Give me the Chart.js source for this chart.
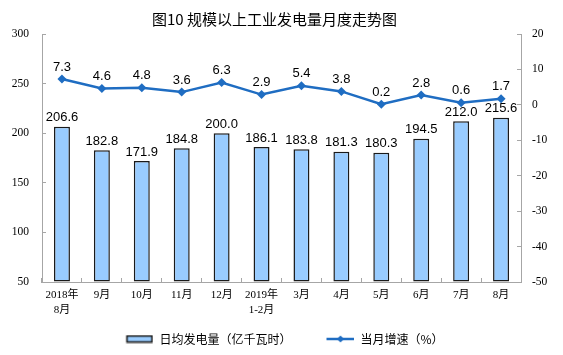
<!DOCTYPE html>
<html>
<head>
<meta charset="utf-8">
<script src="https://cdn.jsdelivr.net/npm/chart.js@4.4.1/dist/chart.umd.min.js"></script>
<style>
html,body{margin:0;padding:0;background:#fff;}
#c{display:block;}
</style>
</head>
<body>
<canvas id="c" width="563" height="355"></canvas>
<script>
// ---- data ----
const categories = [['2018年','8月'],'9月','10月','11月','12月',['2019年','1-2月'],'3月','4月','5月','6月','7月','8月'];
const dailyOutput = [206.6,182.8,171.9,184.8,200.0,186.1,183.8,181.3,180.3,194.5,212.0,215.6];
const growthRate = [7.3,4.6,4.8,3.6,6.3,2.9,5.4,3.8,0.2,2.8,0.6,1.7];
const leftTicks = [50,100,150,200,250,300];
const rightTicks = [-50,-40,-30,-20,-10,0,10,20];
const seriesNames = ['日均发电量（亿千瓦时）','当月增速（%）'];
const titleText = '图10 规模以上工业发电量月度走势图';

// ---- style ----
const BAR_FILL = '#99CCFF';
const BAR_EDGE = '#1A1A1A';
const LINE_COL = '#1F6DC2';
const AXIS_COL = '#A6A6A6';
const SERIF = '"Liberation Serif", "Times New Roman", "Noto Sans CJK SC", serif';
const SANS = '"Liberation Sans", Arial, "Noto Sans CJK SC", sans-serif';
const CJK = '"Noto Sans CJK SC", "Liberation Sans", sans-serif';
const ICON_W = 48; // legend box width (icon drawn at its right end)

function barIcon() {
  const c = document.createElement('canvas');
  c.width = ICON_W; c.height = 9;
  const g = c.getContext('2d');
  const x0 = ICON_W - 28;
  g.fillStyle = BAR_FILL;
  g.fillRect(x0 + 1, 1.5, 26, 6);
  g.strokeStyle = BAR_EDGE;
  g.lineWidth = 1.6;
  g.strokeRect(x0 + 1.5, 1.5, 25, 6);
  return c;
}
function lineIcon() {
  const c = document.createElement('canvas');
  c.width = ICON_W; c.height = 10;
  const g = c.getContext('2d');
  const x0 = ICON_W - 28;
  g.strokeStyle = LINE_COL;
  g.lineWidth = 2.5;
  g.beginPath(); g.moveTo(x0, 5); g.lineTo(x0 + 28, 5); g.stroke();
  g.fillStyle = LINE_COL;
  const cx = x0 + 14;
  g.beginPath(); g.moveTo(cx, 1.5); g.lineTo(cx + 3.5, 5); g.lineTo(cx, 8.5); g.lineTo(cx - 3.5, 5); g.closePath(); g.fill();
  return c;
}
const icons = [barIcon(), lineIcon()];

const valueLabels = {
  id: 'valueLabels',
  afterDatasetDraw(chart, args) {
    const ds = chart.data.datasets[args.index];
    const ctx = chart.ctx;
    ctx.save();
    ctx.font = '13px ' + SANS;
    ctx.fillStyle = '#000';
    ctx.textAlign = 'center';
    ctx.textBaseline = 'middle';
    const off = ds.type === 'bar' ? 9 : 12;
    args.meta.data.forEach((el, i) => {
      ctx.fillText(Number(ds.data[i]).toFixed(1), el.x, el.y - off);
    });
    ctx.restore();
  }
};

const gridOpts = {display: true, drawOnChartArea: false, drawTicks: true, tickLength: -4, color: AXIS_COL, lineWidth: 1};

new Chart(document.getElementById('c'), {
  data: {
    labels: categories,
    datasets: [
      {
        type: 'bar', label: seriesNames[0], data: dailyOutput, yAxisID: 'y',
        backgroundColor: BAR_FILL, borderColor: BAR_EDGE, borderWidth: 1.5, borderSkipped: false,
        base: leftTicks[0], barPercentage: 0.4, categoryPercentage: 1, order: 1
      },
      {
        type: 'line', label: seriesNames[1], data: growthRate, yAxisID: 'y1',
        borderColor: LINE_COL, backgroundColor: LINE_COL, borderWidth: 2.5, tension: 0,
        pointStyle: 'rectRot', pointRadius: 4.5, pointBackgroundColor: LINE_COL, pointBorderColor: LINE_COL,
        pointBorderWidth: 0, order: 0, clip: false
      }
    ]
  },
  options: {
    responsive: false, animation: false, devicePixelRatio: 1,
    layout: {padding: {left: 0, right: 14, top: 0, bottom: 0}},
    plugins: {
      tooltip: {enabled: false},
      title: {
        display: true, text: titleText, color: '#000',
        font: {family: CJK, size: 15, weight: 'normal', lineHeight: 1.2},
        padding: {top: 10, bottom: 6}
      },
      legend: {
        display: true, position: 'bottom',
        labels: {
          usePointStyle: true, pointStyleWidth: ICON_W, padding: 15,
          font: {family: CJK, size: 12}, color: '#000',
          generateLabels: (chart) => chart.data.datasets.map((ds, i) => ({
            text: ds.label, pointStyle: icons[i], fillStyle: 'rgba(0,0,0,0)', strokeStyle: 'rgba(0,0,0,0)',
            lineWidth: 0, fontColor: '#000', hidden: false, datasetIndex: i
          }))
        }
      }
    },
    scales: {
      x: {
        type: 'category', offset: true,
        grid: Object.assign({offset: true}, gridOpts),
        border: {display: true, color: AXIS_COL, width: 1},
        ticks: {padding: 9, maxRotation: 0, autoSkip: false, color: '#000', font: {family: SERIF, size: 11, lineHeight: 1.4}},
        afterFit: (s) => { s.height = 36; }
      },
      y: {
        type: 'linear', position: 'left',
        min: leftTicks[0], max: leftTicks[leftTicks.length - 1], ticks: {stepSize: leftTicks[1] - leftTicks[0], padding: 17, color: '#000', font: {family: SERIF, size: 11.5}},
        grid: gridOpts, border: {display: true, color: AXIS_COL, width: 1},
        afterFit: (s) => { s.width = 42; }
      },
      y1: {
        type: 'linear', position: 'right',
        min: rightTicks[0], max: rightTicks[rightTicks.length - 1], ticks: {stepSize: rightTicks[1] - rightTicks[0], padding: 15, color: '#000', font: {family: SERIF, size: 11.5}},
        grid: gridOpts, border: {display: true, color: AXIS_COL, width: 1},
        afterFit: (s) => { s.width = 28; }
      }
    }
  },
  plugins: [valueLabels]
});
</script>
</body>
</html>
